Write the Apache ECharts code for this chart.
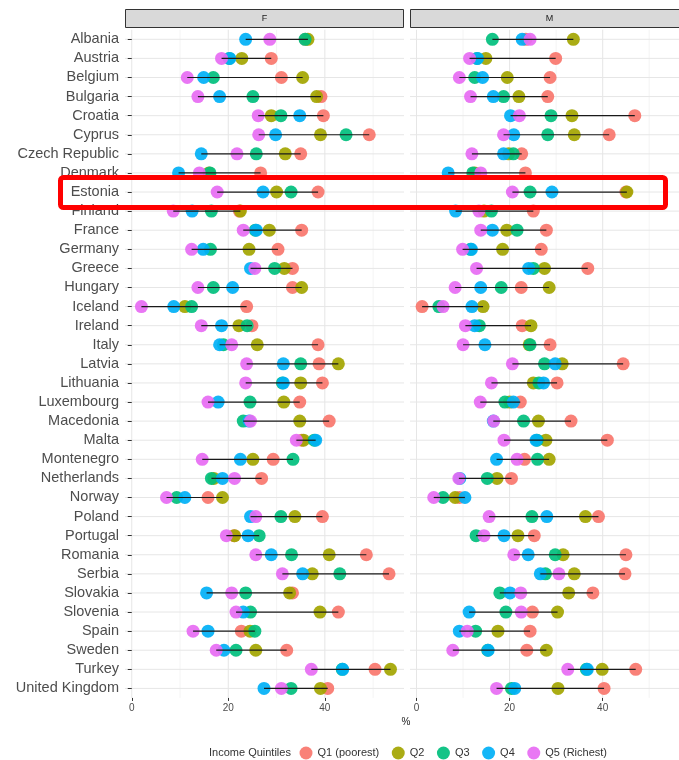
<!DOCTYPE html>
<html><head><meta charset="utf-8">
<script src="https://cdn.jsdelivr.net/npm/echarts@6/dist/echarts.min.js"></script>
<style>html,body{margin:0;padding:0;background:#fff}#c{width:679px;height:760px}</style>
</head><body><div id="c"></div>
<script>
const countries = ['Albania','Austria','Belgium','Bulgaria','Croatia','Cyprus','Czech Republic','Denmark','Estonia','Finland','France','Germany','Greece','Hungary','Iceland','Ireland','Italy','Latvia','Lithuania','Luxembourg','Macedonia','Malta','Montenegro','Netherlands','Norway','Poland','Portugal','Romania','Serbia','Slovakia','Slovenia','Spain','Sweden','Turkey','United Kingdom'];
const quintiles = ['Q1 (poorest)','Q2','Q3','Q4','Q5 (Richest)'];
const panels = ['F','M'];
const xTicks = [0,20,40];
const xMajor = [0,20,40];
const xMinor = [10,30,50];

// Women (F)
const F_Q1 = [36.0,28.9,31.0,39.2,39.7,49.2,35.0,26.7,38.6,22.3,35.2,30.3,33.3,33.3,23.8,24.9,38.6,38.8,39.5,34.8,40.9,35.2,29.3,26.9,15.8,39.5,21.2,48.6,53.3,33.3,42.8,22.7,32.1,50.4,40.6];
const F_Q2 = [36.5,22.8,35.4,38.3,28.9,39.1,31.8,16.0,30.0,22.5,28.5,24.3,31.6,35.2,11.0,22.2,26.0,42.8,35.0,31.5,34.8,35.6,25.1,17.0,18.8,33.8,21.3,40.9,37.4,32.7,39.0,24.5,25.7,53.6,39.1];
const F_Q3 = [35.9,20.2,16.9,25.1,30.9,44.4,25.8,16.2,33.0,16.5,25.6,16.3,29.6,16.9,12.4,23.9,19.0,35.0,31.2,24.5,23.1,37.8,33.4,16.5,9.3,30.9,26.4,33.1,43.1,23.6,24.6,25.5,21.6,43.6,33.0];
const F_Q4 = [23.6,20.3,14.9,18.2,34.8,29.8,14.4,9.7,27.2,12.5,25.8,14.8,24.6,20.9,8.7,18.6,18.2,31.4,31.4,17.9,24.3,38.1,22.5,18.8,11.0,24.6,24.1,28.9,35.4,15.5,23.1,15.8,19.1,43.7,27.4];
const F_Q5 = [28.6,18.6,11.5,13.7,26.2,26.3,21.8,14.0,17.7,8.6,23.1,12.4,25.5,13.7,2.0,14.4,20.7,23.8,23.6,15.8,24.6,34.1,14.6,21.3,7.2,25.7,19.6,25.7,31.2,20.7,21.6,12.7,17.5,37.2,31.0];
// Men (M)
const M_Q1 = [23.5,29.9,28.7,28.2,46.9,41.4,22.6,23.4,45.0,25.1,27.9,26.8,36.8,22.5,1.2,22.7,28.7,44.4,30.2,22.3,33.2,41.0,23.2,20.4,9.2,39.1,25.3,45.0,44.8,37.9,24.9,24.4,23.7,47.1,40.3];
const M_Q2 = [33.7,14.9,19.5,22.0,33.4,33.9,19.8,12.5,45.2,14.5,19.4,18.5,27.5,28.5,14.3,24.6,24.2,31.3,25.1,20.0,26.2,27.8,28.5,17.3,8.3,36.3,21.8,31.5,33.9,32.7,30.3,17.5,27.9,39.9,30.4];
const M_Q3 = [16.3,13.0,12.5,18.7,28.9,28.2,20.8,12.1,24.4,16.1,21.6,11.6,25.1,18.2,4.8,13.5,24.4,27.5,26.3,19.0,23.0,25.9,26.0,15.2,5.7,24.8,12.8,29.8,27.7,17.9,19.2,12.7,15.3,36.5,20.4];
const M_Q4 = [22.7,13.1,14.2,16.5,20.2,20.9,18.7,6.8,29.1,8.4,16.3,11.8,24.1,13.8,11.9,12.5,14.7,29.8,27.3,20.8,16.5,25.7,17.2,9.3,10.4,28.0,18.8,24.0,26.6,20.1,11.3,9.2,15.4,36.7,21.1];
const M_Q5 = [24.4,11.4,9.2,11.6,22.1,18.7,11.9,13.8,20.6,13.4,13.8,9.9,12.9,8.3,5.7,10.5,10.0,20.6,16.1,13.7,16.6,18.8,21.6,9.1,3.7,15.6,14.5,20.9,30.6,22.4,22.5,10.9,7.8,32.5,17.2];

const colors = ['#F8766D','#A3A500','#00BF7D','#00B0F6','#E76BF3'];
const panelData = [[F_Q1,F_Q2,F_Q3,F_Q4,F_Q5],[M_Q1,M_Q2,M_Q3,M_Q4,M_Q5]];

const XMIN = -1.4, XMAX = 56.4;
const GTOP = 29.75, GH = 668.2;
const gridLefts = [125, 410];
const GW = 279;
const FONT = 'Liberation Sans, Arial, sans-serif';

const grids = [], xAxes = [], yAxes = [], series = [];
panels.forEach((p, pi) => {
  grids.push({left: gridLefts[pi], top: GTOP, width: GW, height: GH, containLabel: false});
  xAxes.push({
    type: 'value', gridIndex: pi, min: XMIN, max: XMAX,
    axisLine: {show: false},
    axisTick: {show: true, customValues: xTicks, length: 3, lineStyle: {color: '#333', width: 1}},
    axisLabel: {customValues: xTicks, fontSize: 10, color: '#4d4d4d', margin: 5, fontFamily: FONT},
    splitLine: {show: false}
  });
  yAxes.push({
    type: 'category', gridIndex: pi, data: countries, inverse: true,
    axisLine: {show: false},
    axisTick: {show: pi === 0, interval: 0, alignWithLabel: true, length: 4, lineStyle: {color: '#333'}},
    axisLabel: {show: pi === 0, interval: 0, fontSize: 14.5, color: '#4d4d4d', margin: 6, fontFamily: FONT},
    splitLine: {show: false}
  });
  // vertical grid lines
  series.push({
    type: 'custom', xAxisIndex: pi, yAxisIndex: pi, silent: true, z: 0,
    data: xMajor.map(v => [v, 1]).concat(xMinor.map(v => [v, 0])),
    encode: {x: 0},
    renderItem: (params, api) => {
      const cs = params.coordSys;
      const x = api.coord([api.value(0), countries[0]])[0];
      const major = api.value(1) === 1;
      return {type: 'line', shape: {x1: x, y1: cs.y, x2: x, y2: cs.y + cs.height},
        style: {stroke: major ? '#e6e6e6' : '#f1f1f1', lineWidth: major ? 1 : 0.8}};
    }
  });
  // horizontal grid lines
  series.push({
    type: 'custom', xAxisIndex: pi, yAxisIndex: pi, silent: true, z: 0,
    data: countries.map(c => [XMIN, c]),
    encode: {x: 0, y: 1},
    renderItem: (params, api) => {
      const cs = params.coordSys;
      const y = api.coord([api.value(0), api.value(1)])[1];
      return {type: 'line', shape: {x1: cs.x, y1: y, x2: cs.x + cs.width, y2: y},
        style: {stroke: '#e6e6e6', lineWidth: 1}};
    }
  });
  // points
  panelData[pi].forEach((vals, qi) => {
    series.push({
      type: 'scatter', name: quintiles[qi], xAxisIndex: pi, yAxisIndex: pi, z: 2,
      symbol: 'circle', symbolSize: 13,
      itemStyle: {color: colors[qi], opacity: 0.92},
      emphasis: {disabled: true},
      data: countries.map((c, i) => [vals[i], c])
    });
  });
  // dumbbell segments (min to max)
  series.push({
    type: 'custom', xAxisIndex: pi, yAxisIndex: pi, silent: true, z: 3,
    data: countries.map((c, i) => {
      const v = panelData[pi].map(a => a[i]);
      return [Math.min(...v), Math.max(...v), c];
    }),
    encode: {x: [0, 1], y: 2},
    renderItem: (params, api) => {
      const a = api.coord([api.value(0), api.value(2)]);
      const b = api.coord([api.value(1), api.value(2)]);
      return {type: 'line', shape: {x1: a[0], y1: a[1], x2: b[0], y2: b[1]},
        style: {stroke: '#1a1a1a', lineWidth: 1.2}};
    }
  });
});

const chart = echarts.init(document.getElementById('c'), null, {renderer: 'canvas'});
chart.setOption({
  animation: false,
  backgroundColor: '#ffffff',
  textStyle: {fontFamily: FONT},
  grid: grids, xAxis: xAxes, yAxis: yAxes, series: series,
  legend: {
    data: quintiles, icon: 'circle', itemWidth: 13, itemHeight: 13, itemGap: 12.5,
    left: 299.5, top: 746.5, padding: 0, selectedMode: false,
    textStyle: {fontSize: 11, color: '#333', fontFamily: FONT}
  },
  graphic: [
    {type: 'rect', shape: {x: 125.5, y: 9.5, width: 278, height: 18}, style: {fill: '#d9d9d9', stroke: '#333', lineWidth: 1}, z: 10},
    {type: 'text', x: 264.5, y: 18.5, style: {text: panels[0], fontSize: 9, fill: '#1a1a1a', textAlign: 'center', textVerticalAlign: 'middle', fontFamily: FONT}, z: 11},
    {type: 'rect', shape: {x: 410.5, y: 9.5, width: 278, height: 18}, style: {fill: '#d9d9d9', stroke: '#333', lineWidth: 1}, z: 10},
    {type: 'text', x: 549.5, y: 18.5, style: {text: panels[1], fontSize: 9, fill: '#1a1a1a', textAlign: 'center', textVerticalAlign: 'middle', fontFamily: FONT}, z: 11},
    {type: 'text', x: 406, y: 722, style: {text: '%', fontSize: 10, fill: '#1a1a1a', textAlign: 'center', textVerticalAlign: 'middle', fontFamily: FONT}, z: 11},
    {type: 'text', x: 209, y: 753, style: {text: 'Income Quintiles', fontSize: 11, fill: '#333', textAlign: 'left', textVerticalAlign: 'middle', fontFamily: FONT}, z: 11},
    {type: 'rect', shape: {x: 60.5, y: 177.5, width: 605, height: 30, r: 3}, style: {fill: 'none', stroke: '#ff0000', lineWidth: 5}, z: 100}
  ]
});
</script></body></html>
